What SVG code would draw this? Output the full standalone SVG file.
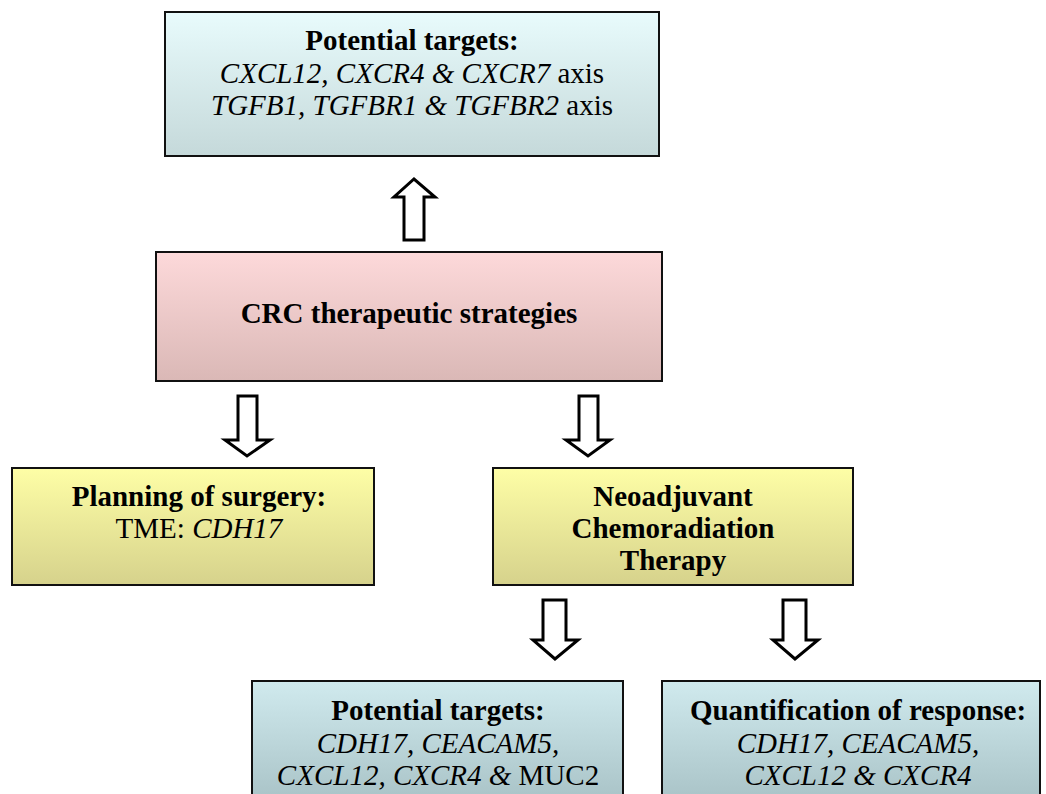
<svg xmlns="http://www.w3.org/2000/svg" width="1046" height="794" viewBox="0 0 1046 794">
<defs>
<linearGradient id="gBlue" x1="0" y1="0" x2="0" y2="1"><stop offset="0" stop-color="#e8fbfc"/><stop offset="1" stop-color="#c5d9da"/></linearGradient>
<linearGradient id="gPink" x1="0" y1="0" x2="0" y2="1"><stop offset="0" stop-color="#fdd9da"/><stop offset="1" stop-color="#dab8b6"/></linearGradient>
<linearGradient id="gYel" x1="0" y1="0" x2="0" y2="1"><stop offset="0" stop-color="#fefea6"/><stop offset="1" stop-color="#d6d28c"/></linearGradient>
<linearGradient id="gTeal" x1="0" y1="0" x2="0" y2="1"><stop offset="0" stop-color="#d0eaee"/><stop offset="1" stop-color="#a9c3c7"/></linearGradient>
<style>
.box{stroke:#111;stroke-width:2}
text{font-family:"Liberation Serif","Times New Roman",serif;font-size:29px;fill:#000;text-anchor:middle}
.b{font-weight:bold}
.i{font-style:italic}
.arr{fill:#fff;stroke:#000;stroke-width:3;stroke-linejoin:miter}
</style>
</defs>
<g id="connectors">
<path class="arr" d="M404,240 L404,197 L394,197 L414,179 L435,197 L424,197 L424,240 Z"/>
<path class="arr" d="M238,396 L257,396 L257,440 L270,440 L247,456 L225,440 L238,440 Z"/>
<path class="arr" d="M579,396 L598,396 L598,440 L610,440 L588,456 L566,440 L579,440 Z"/>
<path class="arr" d="M543,600 L566,600 L566,640 L578,640 L555,659 L533,640 L543,640 Z"/>
<path class="arr" d="M783,600 L806,600 L806,640 L818,640 L795,659 L773,640 L783,640 Z"/>
</g>
<g id="top-targets">
<rect class="box" x="165" y="12" width="494" height="144" fill="url(#gBlue)"/>
<text x="412" y="50" class="b">Potential targets:</text>
<text x="412" y="83"><tspan class="i">CXCL12, CXCR4 &amp; CXCR7</tspan> axis</text>
<text x="412" y="115"><tspan class="i">TGFB1, TGFBR1 &amp; TGFBR2</tspan> axis</text>
</g>
<g id="crc">
<rect class="box" x="156" y="252" width="506" height="129" fill="url(#gPink)"/>
<text x="409" y="323" class="b">CRC therapeutic strategies</text>
</g>
<g id="planning">
<rect class="box" x="12" y="468" width="362" height="117" fill="url(#gYel)"/>
<text x="199" y="506" class="b">Planning of surgery:</text>
<text x="199" y="538">TME: <tspan class="i">CDH17</tspan></text>
</g>
<g id="neoadjuvant">
<rect class="box" x="493" y="468" width="360" height="117" fill="url(#gYel)"/>
<text x="673" y="506" class="b">Neoadjuvant</text>
<text x="673" y="538" class="b">Chemoradiation</text>
<text x="673" y="570" class="b">Therapy</text>
</g>
<g id="bottom-targets">
<rect class="box" x="252" y="681" width="371" height="120" fill="url(#gTeal)"/>
<text x="438" y="720" class="b">Potential targets:</text>
<text x="438" y="753" class="i">CDH17, CEACAM5,</text>
<text x="438" y="785"><tspan class="i">CXCL12, CXCR4 &amp;</tspan> MUC2</text>
</g>
<g id="quantification">
<rect class="box" x="662" y="681" width="378" height="120" fill="url(#gTeal)"/>
<text x="858" y="720" class="b">Quantification of response:</text>
<text x="858" y="753" class="i">CDH17, CEACAM5,</text>
<text x="858" y="785" class="i">CXCL12 &amp; CXCR4</text>
</g>
</svg>
